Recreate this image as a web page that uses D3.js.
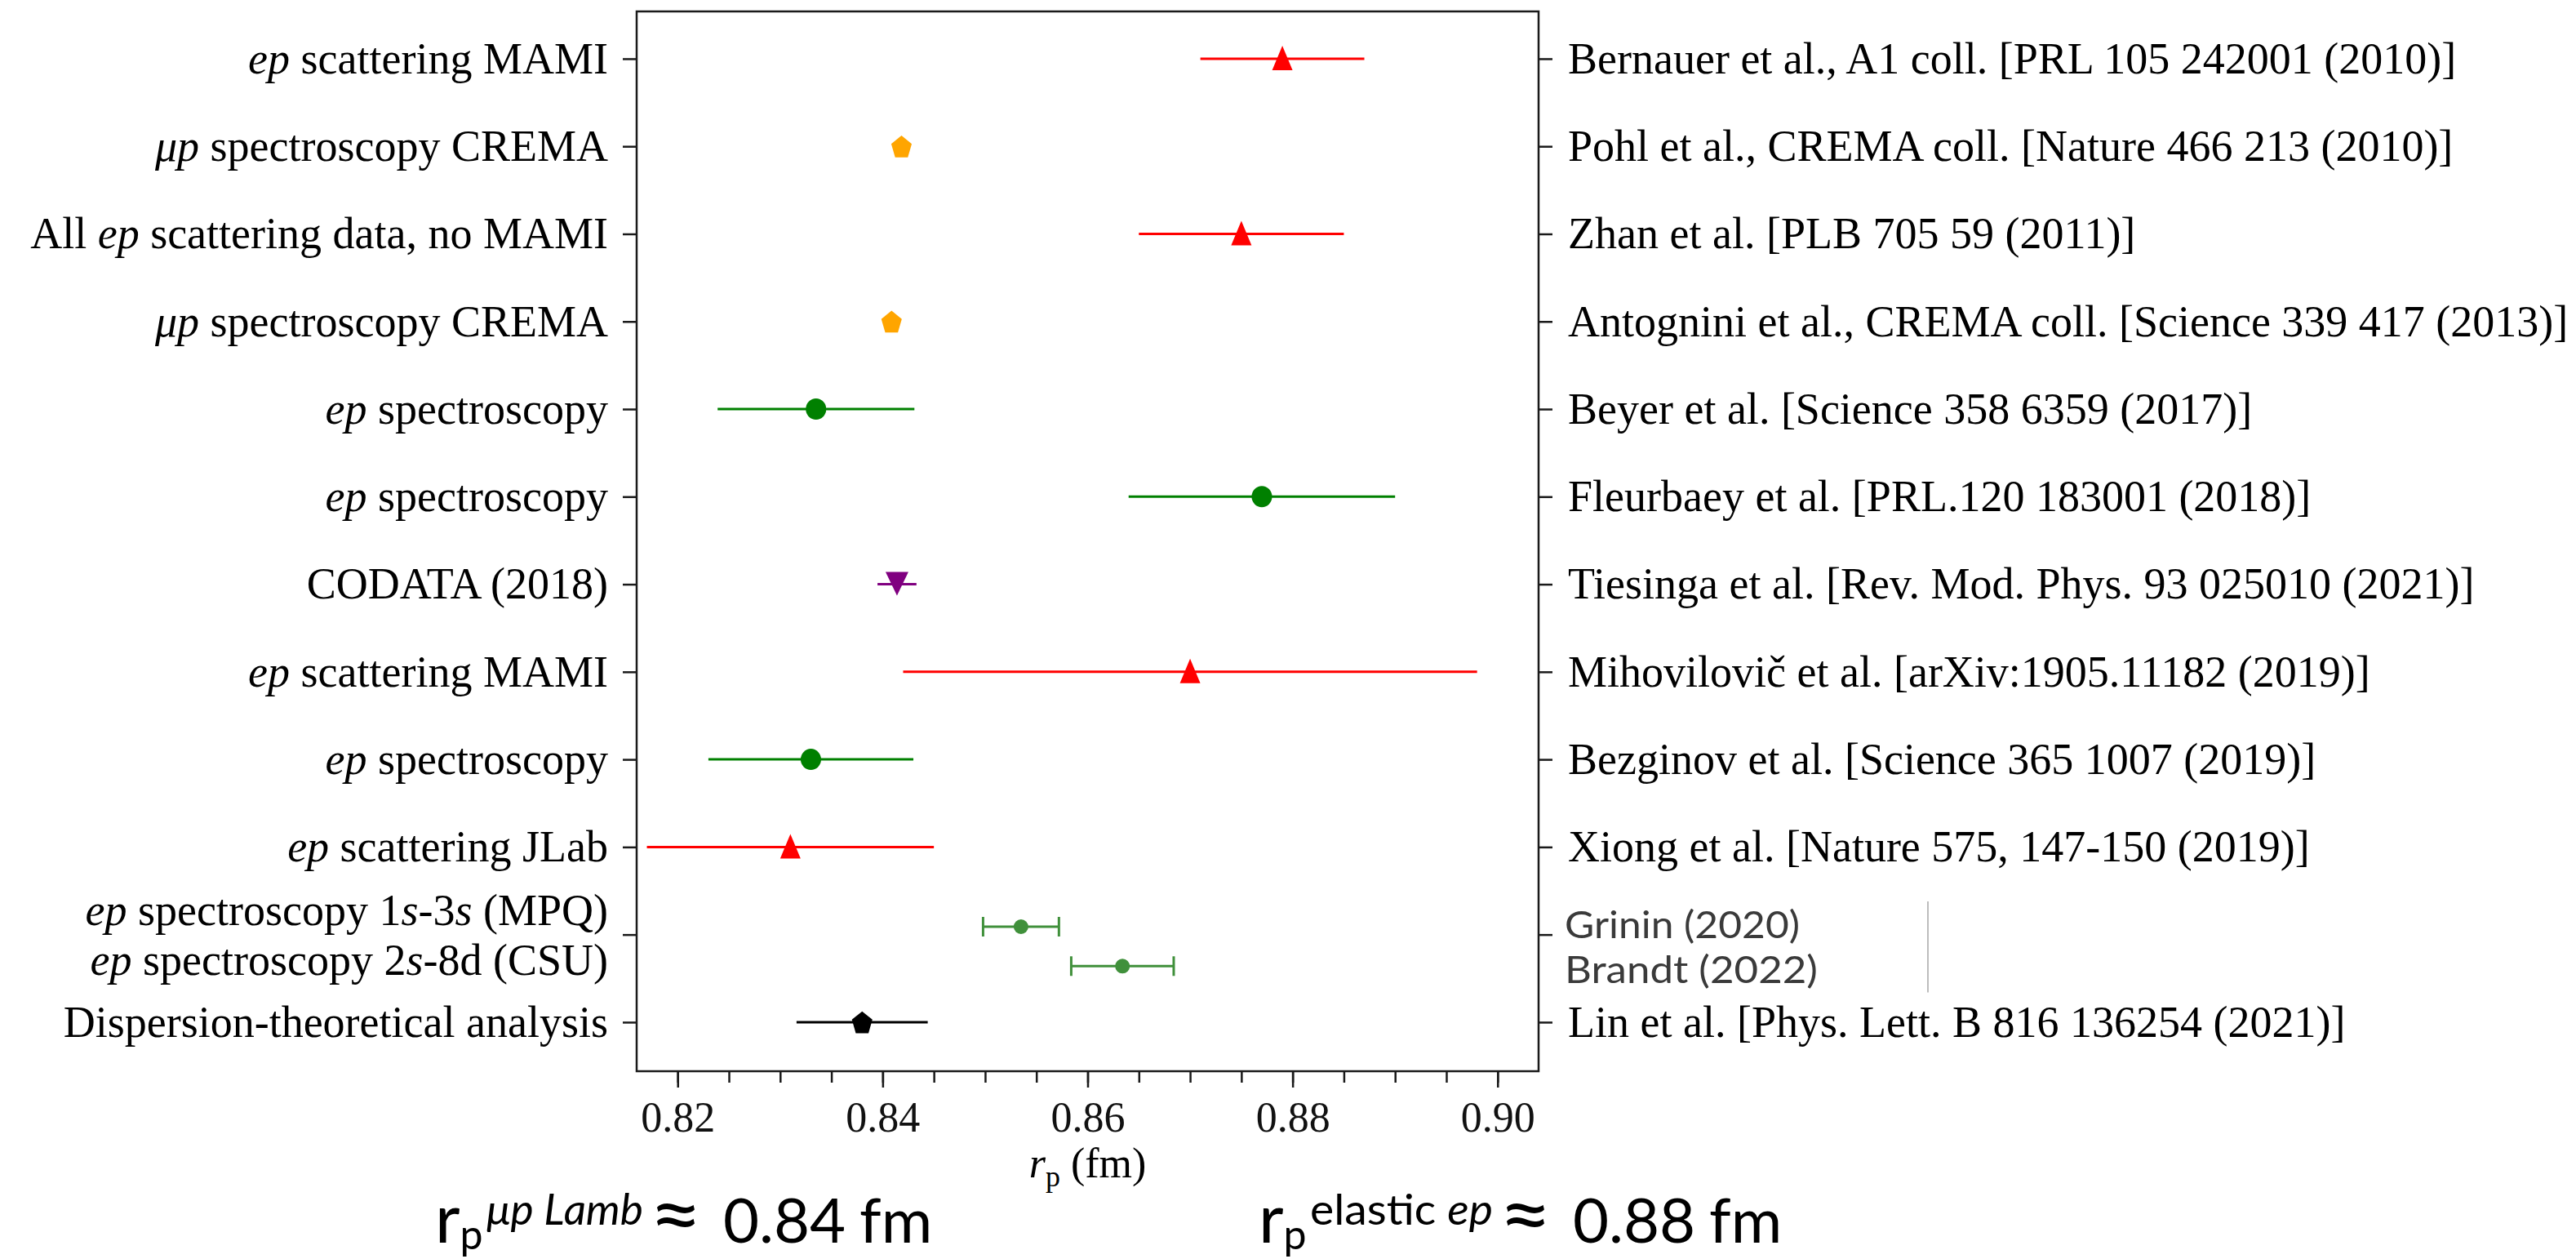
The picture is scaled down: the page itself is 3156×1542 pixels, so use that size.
<!DOCTYPE html>
<html>
<head>
<meta charset="utf-8">
<script src="https://cdnjs.cloudflare.com/ajax/libs/d3/7.8.5/d3.min.js"></script>
<style>
  body { margin: 0; background: #fff; }
  svg { display: block; }
  .serif { font-family: "Liberation Serif", "DejaVu Serif", serif; }
  .sans { font-family: Lato, "Open Sans", sans-serif; }
</style>
</head>
<body>
<svg id="chart" width="3156" height="1542"></svg>
<script>
// proton radius compilation, one row per measurement

// left labels (*...* = italic, | = new line)
var leftLabels = [
  "*ep* scattering MAMI",
  "*μp* spectroscopy CREMA",
  "All *ep* scattering data, no MAMI",
  "*μp* spectroscopy CREMA",
  "*ep* spectroscopy",
  "*ep* spectroscopy",
  "CODATA (2018)",
  "*ep* scattering MAMI",
  "*ep* spectroscopy",
  "*ep* scattering JLab",
  "*ep* spectroscopy 1*s*-3*s* (MPQ)|*ep* spectroscopy 2*s*-8d (CSU)",
  "Dispersion-theoretical analysis"
];

var rightLabels = [
  "Bernauer et al., A1 coll. [PRL 105 242001 (2010)]",
  "Pohl et al., CREMA coll. [Nature 466 213 (2010)]",
  "Zhan et al. [PLB 705 59 (2011)]",
  "Antognini et al., CREMA coll. [Science 339 417 (2013)]",
  "Beyer et al. [Science 358 6359 (2017)]",
  "Fleurbaey et al. [PRL.120 183001 (2018)]",
  "Tiesinga et al. [Rev. Mod. Phys. 93 025010 (2021)]",
  "Mihovilovič et al. [arXiv:1905.11182 (2019)]",
  "Bezginov et al. [Science 365 1007 (2019)]",
  "Xiong et al. [Nature 575, 147-150 (2019)]",
  "",
  "Lin et al. [Phys. Lett. B 816 136254 (2021)]"
];

// r_p in fm and its uncertainty
var rValues = [0.879, 0.84184, 0.875, 0.84087, 0.8335, 0.877, 0.8414, 0.870, 0.833, 0.831, null, 0.838];
var rErrors = [0.008, 0, 0.010, 0, 0.0096, 0.013, 0.0019, 0.028, 0.010, 0.014, null, 0.0064];
var kinds = ["scattering", "muonic", "scattering", "muonic", "spectroscopy", "spectroscopy",
             "codata", "scattering", "spectroscopy", "scattering", null, "dispersion"];

// the two points added later between the rows
var addLabels = ["Grinin (2020)", "Brandt (2022)"];
var addValues = [0.8535, 0.8634];
var addErrors = [0.0037, 0.005];
var addRows = [9.91, 10.36];

var xTicks = [0.82, 0.84, 0.86, 0.88, 0.90];

var kindStyle = {
  scattering:   { color: "#ff0000", shape: "triUp" },
  muonic:       { color: "#ffa500", shape: "pentagon" },
  spectroscopy: { color: "#008000", shape: "circle" },
  codata:       { color: "#800080", shape: "triDown" },
  dispersion:   { color: "#000000", shape: "pentagon" }
};
var addColor = "#40903b";

var pent = d3.range(5).map(function (k) {
  var a = -Math.PI / 2 + k * 2 * Math.PI / 5;
  return [13.2 * Math.cos(a), 13.2 * 1.12 * Math.sin(a) + 1.5];
});
var shapes = {
  triUp: "M0,-16L12.5,14L-12.5,14Z",
  triDown: "M-14,-15L14,-15L0,14Z",
  pentagon: "M" + pent.join("L") + "Z"
};

var svg = d3.select("#chart");

var x = d3.scaleLinear()
  .domain([0.816, 0.904])
  .range([780, 1885]);

var y = d3.scaleLinear()
  .domain([-0.54, 11.56])
  .range([14, 1312]);

var rows = d3.range(leftLabels.length);

// rich text: split on * for italic parts
function rich(sel, str) {
  str.split("*").forEach(function (part, i) {
    if (part === "") return;
    sel.append("tspan")
      .attr("font-style", i % 2 ? "italic" : null)
      .text(part);
  });
}

// bottom axis, major + minor ticks
var xAxis = svg.append("g")
  .attr("class", "serif")
  .attr("transform", "translate(0," + y.range()[1] + ")")
  .call(d3.axisBottom(x).tickValues(xTicks).tickSize(20).tickPadding(17).tickFormat(d3.format(".2f")));
xAxis.selectAll("text").attr("font-size", 52).attr("fill", "#111");

svg.append("g")
  .attr("transform", "translate(0," + y.range()[1] + ")")
  .call(d3.axisBottom(x).ticks(18).tickSize(14).tickFormat(""));

// left axis with category labels
var yLeft = svg.append("g")
  .attr("class", "serif")
  .attr("transform", "translate(" + x.range()[0] + ",0)")
  .call(d3.axisLeft(y).tickValues(rows).tickSize(17).tickPadding(18).tickFormat(""));

yLeft.selectAll(".tick text")
  .attr("font-size", 54)
  .attr("fill", "#000")
  .each(function (d) {
    var t = d3.select(this);
    var lines = leftLabels[d].split("|");
    if (lines.length === 1) {
      rich(t, lines[0]);
    } else {
      t.attr("dy", null);
      lines.forEach(function (line, j) {
        var ln = t.append("tspan").attr("x", -35).attr("y", j === 0 ? -12 : 49);
        rich(ln, line);
      });
    }
  });

// right axis with references
var yRight = svg.append("g")
  .attr("class", "serif")
  .attr("transform", "translate(" + x.range()[1] + ",0)")
  .call(d3.axisRight(y).tickValues(rows).tickSize(17).tickPadding(19).tickFormat(function (d) { return rightLabels[d]; }));
yRight.selectAll(".tick text").attr("font-size", 54).attr("fill", "#000");

svg.selectAll(".domain").remove();
svg.selectAll(".tick line").attr("stroke", "#1a1a1a").attr("stroke-width", 2.5);

// frame
svg.append("rect")
  .attr("x", x.range()[0])
  .attr("y", y.range()[0])
  .attr("width", x.range()[1] - x.range()[0])
  .attr("height", y.range()[1] - y.range()[0])
  .attr("fill", "none")
  .attr("stroke", "#1a1a1a")
  .attr("stroke-width", 2.5);

// error bars
var pts = rows.filter(function (i) { return rValues[i] != null; });

svg.append("g").selectAll("line")
  .data(pts.filter(function (i) { return rErrors[i] > 0; }))
  .enter().append("line")
  .attr("x1", function (i) { return x(rValues[i] - rErrors[i]); })
  .attr("x2", function (i) { return x(rValues[i] + rErrors[i]); })
  .attr("y1", function (i) { return y(i); })
  .attr("y2", function (i) { return y(i); })
  .attr("stroke", function (i) { return kindStyle[kinds[i]].color; })
  .attr("stroke-width", 3);

// markers
var marks = svg.append("g").selectAll("g")
  .data(pts)
  .enter().append("g")
  .attr("transform", function (i) { return "translate(" + x(rValues[i]) + "," + y(i) + ")"; })
  .attr("fill", function (i) { return kindStyle[kinds[i]].color; });

marks.each(function (i) {
  var g = d3.select(this), s = kindStyle[kinds[i]].shape;
  if (s === "circle") g.append("ellipse").attr("rx", 12.5).attr("ry", 13);
  else g.append("path").attr("d", shapes[s]);
});

// added points with capped error bars
var add = svg.append("g").selectAll("g")
  .data(addValues)
  .enter().append("g")
  .attr("stroke", addColor)
  .attr("fill", addColor);

add.append("line")
  .attr("x1", function (d, i) { return x(d - addErrors[i]); })
  .attr("x2", function (d, i) { return x(d + addErrors[i]); })
  .attr("y1", function (d, i) { return y(addRows[i]); })
  .attr("y2", function (d, i) { return y(addRows[i]); })
  .attr("stroke-width", 3);

add.selectAll(".cap")
  .data(function (d, i) { return [[d - addErrors[i], addRows[i]], [d + addErrors[i], addRows[i]]]; })
  .enter().append("line")
  .attr("class", "cap")
  .attr("x1", function (c) { return x(c[0]); })
  .attr("x2", function (c) { return x(c[0]); })
  .attr("y1", function (c) { return y(c[1]) - 12; })
  .attr("y2", function (c) { return y(c[1]) + 12; })
  .attr("stroke-width", 3);

add.append("circle")
  .attr("cx", function (d) { return x(d); })
  .attr("cy", function (d, i) { return y(addRows[i]); })
  .attr("r", 9)
  .attr("stroke", "none");

// their labels on the right
svg.append("g").selectAll("text")
  .data(addLabels)
  .enter().append("text")
  .attr("class", "sans")
  .attr("x", x.range()[1] + 32)
  .attr("y", function (d, i) { return y(addRows[i]) + (i === 0 ? -3 : 4); })
  .attr("dy", "0.36em")
  .attr("font-size", 47)
  .attr("textLength", function (d, i) { return i === 0 ? 288 : 310; })
  .attr("lengthAdjust", "spacingAndGlyphs")
  .attr("fill", "#3a3a3a")
  .text(function (d) { return d; });

svg.append("line")
  .attr("x1", 2362).attr("x2", 2362)
  .attr("y1", y(9.62)).attr("y2", y(10.66))
  .attr("stroke", "#bdbdbd")
  .attr("stroke-width", 2);

// x axis title
var xt = svg.append("text")
  .attr("class", "serif")
  .attr("x", (x.range()[0] + x.range()[1]) / 2)
  .attr("y", 1442)
  .attr("text-anchor", "middle")
  .attr("font-size", 52);
xt.append("tspan").attr("font-style", "italic").text("r");
xt.append("tspan").attr("font-size", 36).attr("dy", 11).text("p");
xt.append("tspan").attr("dy", -11).text(" (fm)");

// big summary values below the chart
function bigLabel(x0, sup, supW, value) {
  var base = 1522;
  var t = svg.append("text")
    .attr("class", "sans")
    .attr("y", base)
    .attr("fill", "#000");
  t.append("tspan").attr("x", x0).attr("font-size", 84).text("r");
  t.append("tspan").attr("font-size", 50).attr("y", base + 8).text("p");
  var s = t.append("tspan")
    .attr("x", x0 + 63).attr("y", base - 22)
    .attr("font-size", 52)
    .attr("textLength", supW)
    .attr("lengthAdjust", "spacingAndGlyphs");
  rich(s, sup);
  t.append("tspan").attr("x", x0 + supW + 70).attr("y", base).attr("font-size", 100)
    .attr("textLength", 66).attr("lengthAdjust", "spacingAndGlyphs").text("≈");
  t.append("tspan").attr("x", x0 + supW + 161).attr("font-size", 76).text(value);
  t.append("tspan").attr("x", x0 + supW + 328).attr("font-size", 76).text("fm");
}
bigLabel(533, "*μp Lamb*", 192, "0.84");
bigLabel(1542, "elastic *ep*", 224, "0.88");
</script>
</body>
</html>
